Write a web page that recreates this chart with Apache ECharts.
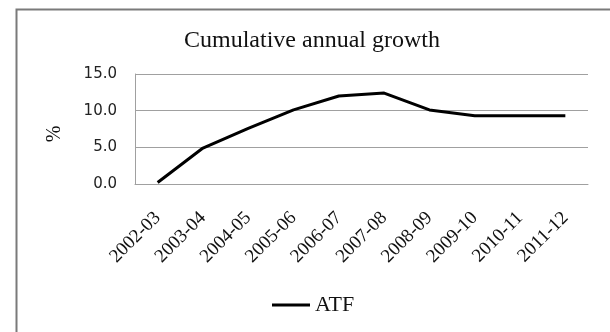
<!DOCTYPE html>
<html>
<head>
<meta charset="utf-8">
<title>Cumulative annual growth</title>
<script src="https://cdn.jsdelivr.net/npm/echarts@6/dist/echarts.min.js"></script>
<style>
  html, body { margin: 0; padding: 0; background: #fff; }
  #chart { width: 610px; height: 332px; }
</style>
</head>
<body>
<div id="chart"></div>
<script>
// Fiscal years on the category axis
const years = ['2002-03', '2003-04', '2004-05', '2005-06', '2006-07',
               '2007-08', '2008-09', '2009-10', '2010-11', '2011-12'];
// Cumulative annual growth of ATF, in percent
const atf = [0.2, 4.9, 7.6, 10.1, 12.0, 12.4, 10.1, 9.3, 9.3, 9.3];
// Value axis range and step
const yMin = 0;
const yMax = 15;
const yStep = 5;

const serif = '"Liberation Serif", "Times New Roman", serif';
const sans = '"DejaVu Sans", Verdana, sans-serif';

const chart = echarts.init(document.getElementById('chart'), null, { renderer: 'canvas' });

chart.setOption({
  animation: false,
  backgroundColor: '#ffffff',
  graphic: [{
    // chart frame: only the left and top edges fall inside the canvas
    type: 'rect',
    left: 14,
    top: 7,
    shape: { width: 640, height: 360 },
    style: { fill: 'none', stroke: '#7a7a7a', lineWidth: 2 },
    silent: true,
    z: -1
  }, {
    // value-axis unit, reading bottom to top
    type: 'text',
    x: 55,
    y: 134,
    rotation: Math.PI / 2,
    style: {
      text: '%',
      font: '20px ' + serif,
      fill: '#111',
      textAlign: 'center',
      textVerticalAlign: 'middle'
    },
    silent: true
  }],
  title: {
    text: 'Cumulative annual growth',
    left: 307,
    top: 24,
    textAlign: 'center',
    textStyle: { fontFamily: serif, fontSize: 24, fontWeight: 'normal', color: '#111' }
  },
  legend: {
    data: ['ATF'],
    left: 272,
    top: 294,
    padding: 0,
    icon: 'rect',
    itemWidth: 38,
    itemHeight: 3,
    textStyle: { fontFamily: serif, fontSize: 22, color: '#111' }
  },
  grid: { left: 135, right: 22, top: 74, bottom: 148, containLabel: false },
  xAxis: {
    type: 'category',
    data: years,
    boundaryGap: true,
    axisLine: { show: true, lineStyle: { color: '#a0a0a0', width: 1 } },
    axisTick: { show: false },
    axisLabel: {
      interval: 0,
      rotate: 45,
      margin: 31,
      fontFamily: serif,
      fontSize: 19,
      color: '#111'
    },
    splitLine: { show: false }
  },
  yAxis: {
    type: 'value',
    min: yMin,
    max: yMax,
    interval: yStep,
    axisLine: { show: true, lineStyle: { color: '#a0a0a0', width: 1 } },
    axisTick: { show: false },
    axisLabel: {
      margin: 18,
      fontFamily: sans,
      fontSize: 15,
      color: '#222',
      formatter: v => v.toFixed(1)
    },
    splitLine: { show: true, lineStyle: { color: '#a0a0a0', width: 1 } }
  },
  series: [{
    name: 'ATF',
    type: 'line',
    data: atf,
    showSymbol: false,
    symbol: 'none',
    lineStyle: { color: '#000', width: 3 },
    itemStyle: { color: '#000' }
  }]
});
</script>
</body>
</html>
